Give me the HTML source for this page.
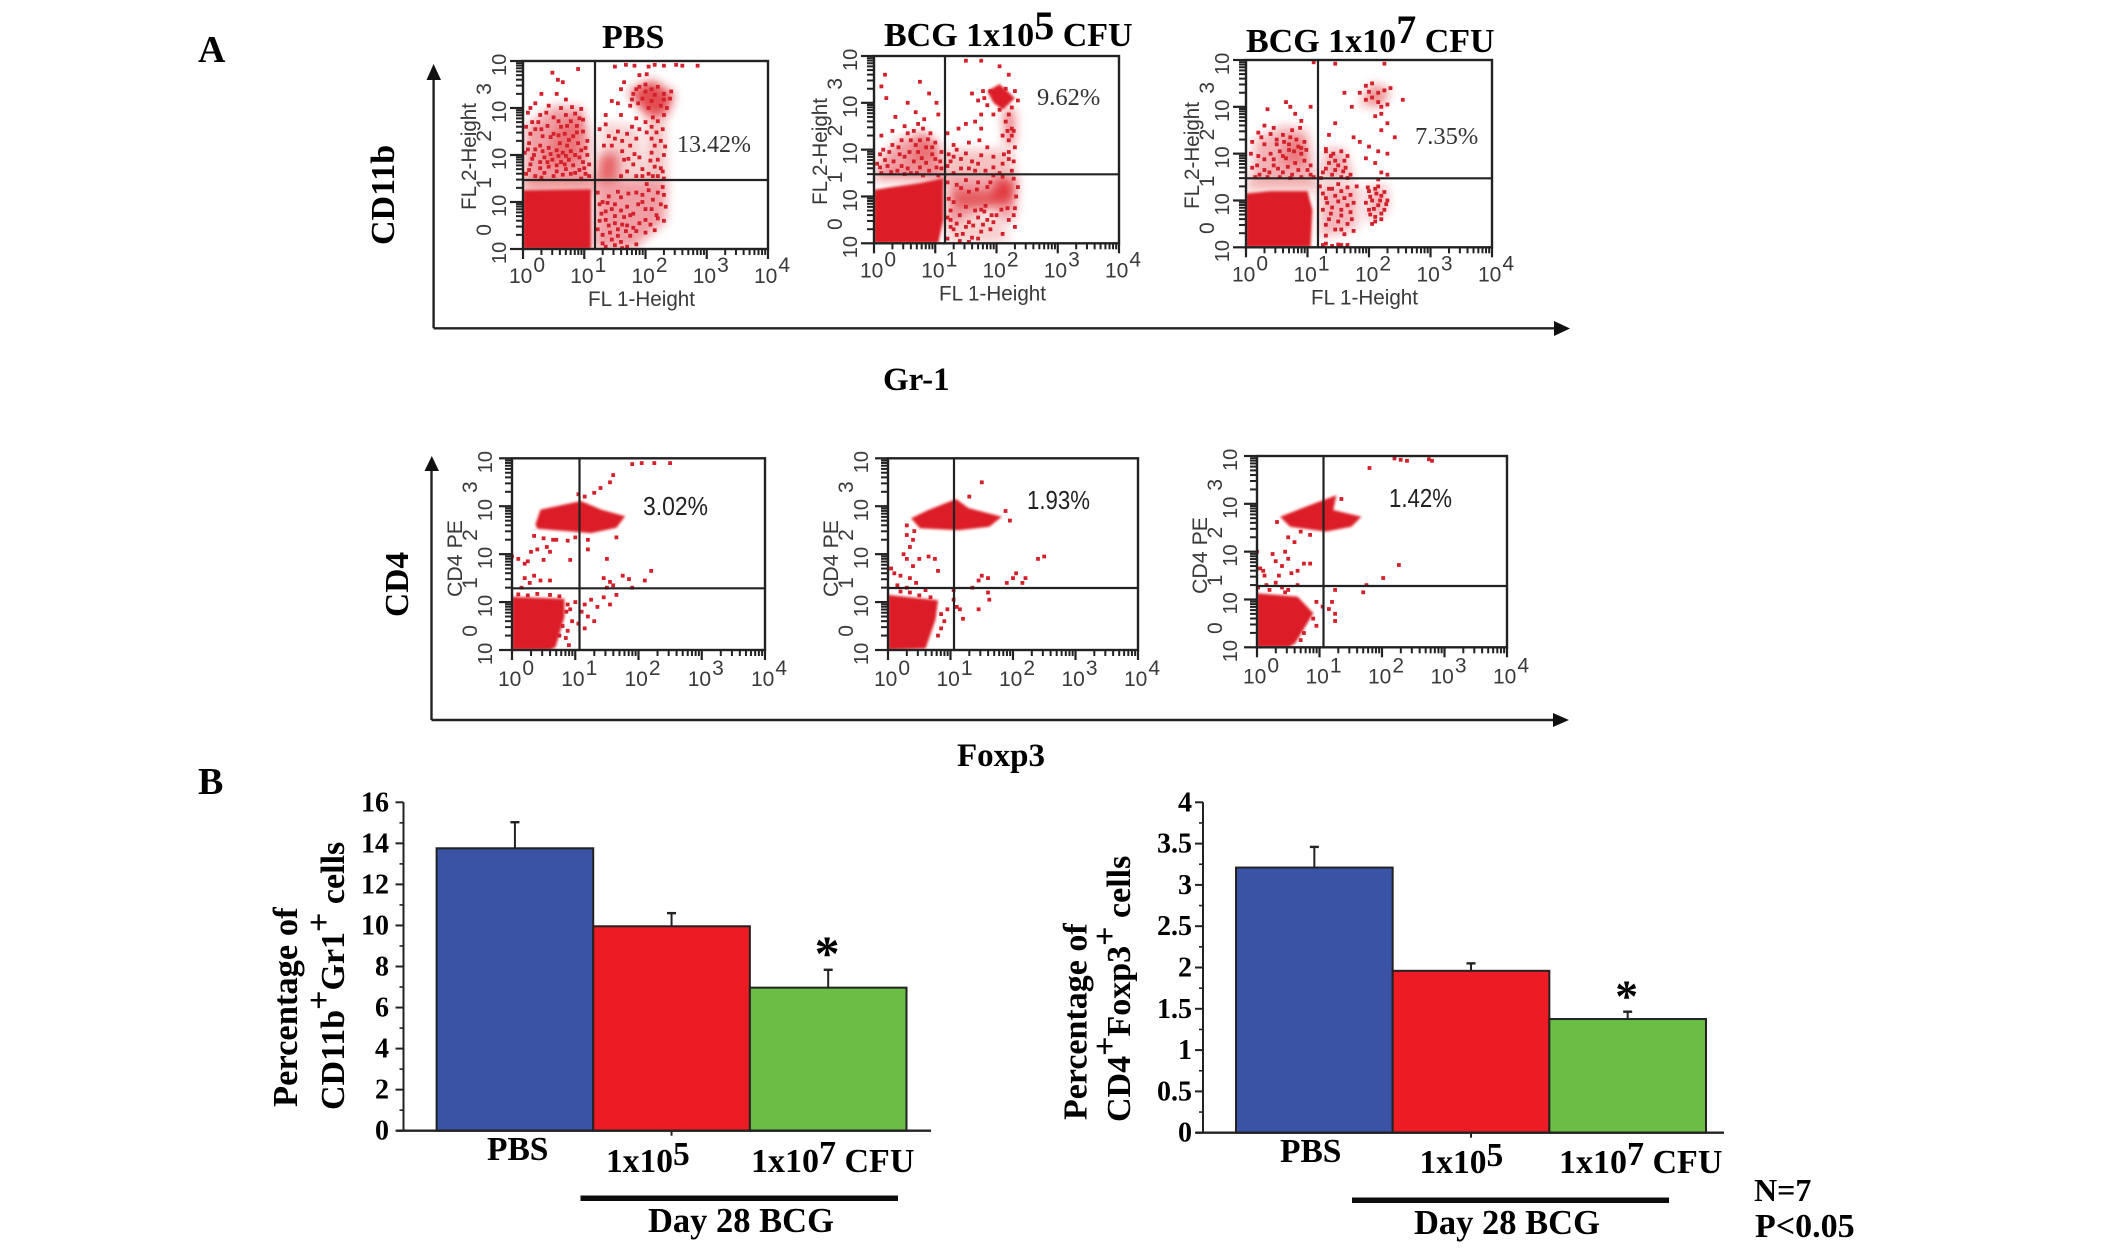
<!DOCTYPE html>
<html lang="en">
<head>
<meta charset="utf-8">
<title>Flow cytometry and bar charts of BCG treatment</title>
<style>
html,body{margin:0;padding:0;background:#fff;}
svg{display:block;}
.b{font-family:"Liberation Serif",serif;font-weight:bold;fill:#000;}
.p{font-family:"Liberation Serif",serif;fill:#333;font-size:24px;}
.s{font-family:"Liberation Sans",sans-serif;fill:#3a3a3a;}
</style>
</head>
<body>
<svg id="fig" xmlns="http://www.w3.org/2000/svg" width="2126" height="1256" viewBox="0 0 2126 1256">
<defs id="defs">
<filter id="softCloud" x="-25%" y="-25%" width="150%" height="150%"><feGaussianBlur stdDeviation="5"/></filter>
<filter id="softEdge" x="-10%" y="-10%" width="120%" height="120%"><feGaussianBlur stdDeviation="1.3"/></filter>
</defs>
<rect x="0" y="0" width="2126" height="1256" fill="#fff"/>

<text class="b" x="198" y="62" font-size="38">A</text>
<text class="b" x="198" y="794" font-size="38">B</text>

<text class="b" x="602" y="48" font-size="34">PBS</text>
<text class="b" x="884" y="46" font-size="34">BCG 1x10<tspan dy="-7" font-size="40">5</tspan><tspan dy="7"> CFU</tspan></text>
<text class="b" x="1246" y="52" font-size="34">BCG 1x10<tspan dy="-9" font-size="40">7</tspan><tspan dy="9"> CFU</tspan></text>

<text class="b" font-size="34" transform="translate(394,245) rotate(-90)">CD11b</text>
<text class="b" x="883" y="390" font-size="33">Gr-1</text>
<text class="b" font-size="33.5" transform="translate(408,617) rotate(-90)">CD4</text>
<text class="b" x="957" y="766" font-size="33">Foxp3</text>

<g stroke="#222" stroke-width="2.4" fill="#111">
<line x1="433.6" y1="72" x2="433.6" y2="328.3"/>
<line x1="433.6" y1="328.3" x2="1558" y2="328.3"/>
<polygon stroke="none" points="433.6,64 426.5,80 441,80"/>
<polygon stroke="none" points="1570,328.5 1554,321 1554,336"/>
</g>
<g stroke="#222" stroke-width="2.4" fill="#111">
<line x1="431.5" y1="464" x2="431.5" y2="720"/>
<line x1="431.5" y1="720" x2="1556" y2="720"/>
<polygon stroke="none" points="431.8,456 424.5,471 439,471"/>
<polygon stroke="none" points="1569,720 1553,713 1553,727"/>
</g>

<g id="plots"></g>
<g id="bars"></g>

<text class="p" x="677" y="152">13.42%</text>
<text class="p" x="1037" y="105" font-size="24.5" style="font-size:24.5px">9.62%</text>
<text class="p" x="1415" y="144" style="font-size:24.5px">7.35%</text>
<text class="s" x="643" y="515" font-size="26" textLength="65" lengthAdjust="spacingAndGlyphs" style="fill:#222">3.02%</text>
<text class="s" x="1027" y="509" font-size="26" textLength="63" lengthAdjust="spacingAndGlyphs" style="fill:#222">1.93%</text>
<text class="s" x="1389" y="507" font-size="26" textLength="63" lengthAdjust="spacingAndGlyphs" style="fill:#222">1.42%</text>

<text class="b" font-size="34.5" transform="translate(297,1107) rotate(-90)">Percentage of</text>
<text class="b" font-size="34" transform="translate(344,1110) rotate(-90)">CD11b<tspan dy="-14">+</tspan><tspan dy="14">Gr1</tspan><tspan dy="-14">+</tspan><tspan dy="14"> cells</tspan></text>
<text class="b" font-size="34" transform="translate(1086.5,1120) rotate(-90)">Percentage of</text>
<text class="b" font-size="34" transform="translate(1130,1122) rotate(-90)">CD4<tspan dy="-14">+</tspan><tspan dy="14">Foxp3</tspan><tspan dy="-14">+</tspan><tspan dy="14"> cells</tspan></text>

<text class="b" x="487" y="1160" font-size="33.5">PBS</text>
<text class="b" x="606" y="1172" font-size="33.5">1x10<tspan dy="-7">5</tspan></text>
<text class="b" x="751" y="1172" font-size="34">1x10<tspan dy="-8">7</tspan><tspan dy="8"> CFU</tspan></text>
<rect x="580.5" y="1195.5" width="317.5" height="5.5" fill="#0c0c0c"/>
<text class="b" x="648" y="1232" font-size="34.5">Day 28 BCG</text>

<text class="b" x="1280" y="1162" font-size="33.5">PBS</text>
<text class="b" x="1419.5" y="1173" font-size="33.5">1x10<tspan dy="-7">5</tspan></text>
<text class="b" x="1559" y="1173" font-size="34">1x10<tspan dy="-8">7</tspan><tspan dy="8"> CFU</tspan></text>
<rect x="1352" y="1197.5" width="317" height="5.5" fill="#0c0c0c"/>
<text class="b" x="1414" y="1234" font-size="34.5">Day 28 BCG</text>

<text class="b" x="1754" y="1201" font-size="32">N=7</text>
<text class="b" x="1755" y="1237" font-size="34">P&lt;0.05</text>
</svg>

<script>
// ---- Bar chart data ----
const leftBarValues = [13.76, 9.96, 6.97];
const leftErrorTops = [15.03, 10.6, 7.84];
const leftTickValues = [0, 2, 4, 6, 8, 10, 12, 14, 16];
const leftTickLabels = ['0', '2', '4', '6', '8', '10', '12', '14', '16'];
const rightBarValues = [3.21, 1.96, 1.376];
const rightErrorTops = [3.46, 2.05, 1.465];
const rightTickValues = [0, 0.5, 1, 1.5, 2, 2.5, 3, 3.5, 4];
const rightTickLabels = ['0', '0.5', '1', '1.5', '2', '2.5', '3', '3.5', '4'];
const barCategories = ['pbs', '1e5', '1e7'];
const barColors = ['#3a53a4', '#ed1c24', '#6abd45'];

// ---- Flow plot data, all in decades (0..4 = 10^0..10^4) ----
const decadeTicks = [0, 1, 2, 3, 4];
const minorMultipliers = [2, 3, 4, 5, 6, 7, 8, 9];

const pbsCd11bDense = [
  [0,0, 1.11,0, 1.11,1.27, 0,1.25]
];
const pbsCd11bCloud = [
  [.02,1.5, 1.1,1.5, 1.1,2.4, .95,3.0, .5,3.05, .05,2.6, .42],
  [.35,1.8, .9,1.8, 1,2.9, .55,2.6, .35],
  [1.15,0, 1.8,0, 2.33,.6, 2.35,1.45, 1.2,1.45, .42],
  [2.0,1.45, 2.35,1.45, 2.3,3, 2.05,3, .28],
  [1.72,3.35, 2.1,3.6, 2.47,3.3, 2.35,2.85, 2.0,2.85, .8],
  [1.2,1.45, 1.55,1.45, 1.55,2.05, 1.25,2.0, .6],
  [0,1.25, 1.18,1.25, 1.18,1.5, 0,1.5, .5],
  [1.2,1.45, 2.0,1.45, 1.9,2.6, 1.3,2.7, .22]
];
const pbsCd11bDots = [.48,3.75,.57,3.6,.65,3.55,.9,3.83,.3,3.3,.12,3.0,.2,3.1,.55,3.3,.7,3.18,.42,3.05,.62,3.0,.8,3.02,.95,2.98,.28,2.85,.5,2.8,.7,2.85,.85,2.88,.98,2.75,.78,2.72,.88,2.62,.62,2.6,.4,2.62,.2,2.55,.05,2.6,.12,2.45,.32,2.4,.5,2.45,.68,2.45,.82,2.4,.98,2.5,1.05,2.3,.9,2.25,.72,2.2,.6,2.25,.55,2.1,.65,2.05,.78,2.08,.42,2.15,.28,2.2,.1,2.25,.03,2.05,.18,2.0,.35,1.95,.48,1.9,.62,1.85,.75,1.9,.92,1.95,1.05,2.0,.12,1.8,.28,1.72,.42,1.75,.55,1.65,.7,1.7,.85,1.62,1.0,1.72,.05,1.6,.2,1.55,.95,1.5,1.08,1.55,1.5,3.88,1.68,3.92,1.82,3.9,2.05,3.88,2.15,3.92,2.3,3.9,2.5,3.92,2.6,3.9,2.85,3.9,1.6,3.4,1.65,3.55,1.9,3.7,2.02,3.72,1.55,3.1,1.75,3.05,1.45,3.15,1.35,2.85,1.6,2.85,1.85,2.78,2.0,2.7,2.1,2.6,2.2,2.72,2.3,2.85,1.8,3.3,1.9,3.45,2.0,3.5,2.1,3.4,2.2,3.45,2.3,3.3,2.4,3.2,2.1,3.15,1.95,3.2,2.25,3.05,2.35,3.0,2.05,3.0,1.25,2.55,1.4,2.4,1.55,2.5,1.7,2.45,1.62,2.3,1.75,2.2,1.45,2.2,1.85,2.35,2.1,2.35,2.15,2.2,2.25,2.3,2.1,2.05,2.2,1.9,2.3,2.0,2.15,1.75,2.28,1.65,2.05,1.6,1.9,1.95,1.8,1.8,1.7,1.65,1.65,1.9,1.6,1.55,1.85,1.55,1.95,1.7,2.3,1.5,2.2,1.55,1.22,1.2,1.3,1.0,1.4,1.12,1.5,.95,1.6,1.1,1.7,.9,1.35,.8,1.5,.7,1.65,.68,1.25,.6,1.4,.5,1.55,.42,1.7,.5,1.8,.75,1.9,.55,2.0,.35,2.15,.4,1.3,.3,1.45,.2,1.6,.15,1.75,.28,1.35,.05,1.5,.08,1.7,.05,1.85,.1,2.0,.62,2.2,.65,2.3,.6,2.33,.9,1.95,1.0,2.05,1.25,2.2,1.2,2.3,1.15,1.85,1.2,2.1,.85,
.08,2.9,.25,2.7,.38,2.9,.58,2.72,.72,2.62,.92,2.78,.15,2.7,.3,2.55,.45,2.38,.58,2.42,.75,2.32,.88,2.48,1.02,2.15,.95,2.1,.85,2.0,.7,1.98,.58,1.98,.45,2.02,.32,2.08,.2,2.12,.08,2.12,.15,1.92,.28,1.85,.4,1.85,.55,1.78,.68,1.8,.82,1.78,.98,1.85,1.08,1.8,.1,1.68,.35,1.62,.5,1.55,.65,1.58,.78,1.6,.92,1.68,.3,1.52,1.02,1.6,1.85,3.4,1.78,3.18,2.15,3.28,2.3,3.18,2.42,3.35,1.88,3.1,2.0,3.35,1.35,2.65,1.5,2.35,1.32,2.2,1.78,2.6,1.9,2.55,2.02,2.48,2.18,2.48,2.28,2.55,2.12,2.8,2.32,2.18,2.08,1.88,2.25,1.72,1.95,1.55,2.12,1.55,1.72,1.92,1.82,2.02,1.62,2.08,1.25,.95,1.38,.98,1.55,1.22,1.72,1.18,1.28,.75,1.45,.85,1.6,.82,1.75,.72,1.22,.42,1.35,.62,1.5,.55,1.62,.52,1.85,.38,2.08,.52,2.12,1.05,2.25,.95,2.0,.85,2.18,.72,2.28,1.32,2.02,1.38,1.88,.95,1.95,1.15,1.42,.35,1.55,.28,1.68,.38,1.3,.12,1.62,.02,1.8,.45];

const bcg5Cd11bDense = [
  [0,1.14, .34,1.21, .77,1.29, 1.13,1.39, 1.13,.5, 1.05,0, 0,0],
  [1.85,3.25, 2.05,3.4, 2.3,3.1, 2.1,2.85, 1.95,3.0]
];
const bcg5Cd11bCloud = [
  [.05,1.45, 1.15,1.4, 1.1,2.05, .8,2.4, .4,2.2, .1,1.8, .42],
  [.55,1.7, 1.0,1.7, 1.0,2.2, .75,2.35, .35],
  [1.18,.4, 1.95,.75, 2.05,.5, 2.3,.5, 2.35,1.45, 1.18,1.45, .4],
  [1.3,.75, 1.95,.8, 1.95,1.1, 1.3,1.15, .6],
  [1.9,.85, 2.25,.85, 2.3,1.3, 2.0,1.4, .8],
  [1.18,1.45, 2.3,1.45, 2.25,2.0, 1.2,2.0, .28],
  [2.1,2.85, 2.3,2.85, 2.3,2.1, 2.15,2.1, .55],
  [1.18,0, 2.2,0, 2.1,.5, 1.2,.6, .22],
  [0,1.35, 1.18,1.35, 1.18,1.5, 0,1.5, .4]
];
const bcg5Cd11bDots = [1.5,3.9,1.75,3.9,.18,3.6,.12,3.35,.75,3.45,.2,3.1,.9,3.2,.55,3.0,1.02,3.0,.68,2.8,.35,2.7,.82,2.65,1.05,2.75,.12,2.3,.3,2.4,.5,2.5,.72,2.55,.92,2.35,.6,2.2,.75,2.2,.85,2.05,.68,2.1,.4,2.05,.25,1.95,.1,1.9,.5,1.85,.65,1.75,.78,1.82,.95,1.9,1.08,1.75,1.1,1.95,.22,1.65,.38,1.55,.55,1.6,.7,1.5,.9,1.55,1.02,1.62,.12,1.5,.05,1.7,1.2,2.35,1.3,2.1,1.38,2.45,1.5,2.55,1.65,2.6,1.75,2.45,1.55,2.15,1.72,2.2,1.85,2.05,1.95,1.85,1.3,1.85,1.42,1.8,1.55,1.6,1.7,1.7,1.82,1.55,1.95,1.45,2.1,1.7,2.2,1.8,2.25,1.55,1.2,1.65,1.3,1.5,2.05,3.78,2.2,3.6,2.15,3.3,1.6,3.2,1.7,3.05,1.78,3.25,1.85,2.95,1.75,2.75,2.05,2.85,2.2,2.75,2.15,2.6,2.25,2.45,2.1,2.3,2.2,2.2,2.3,2.05,2.2,1.95,2.28,2.4,1.2,1.3,1.35,1.25,1.5,1.35,1.7,1.3,1.85,1.2,1.25,.5,1.4,.6,1.55,.45,1.7,.55,1.85,.5,2.0,.6,2.2,.5,2.3,.35,1.3,.3,1.45,.2,1.6,.12,1.75,.25,1.9,.3,2.1,.2,1.2,.1,1.4,.05,1.55,.03,1.25,.7,1.65,.7,1.8,.68,2.3,.75,2.35,1.2,
.15,2.0,.3,2.1,.45,2.2,.55,2.35,.65,2.4,.8,2.45,.88,2.22,1.0,2.15,.95,2.05,.72,1.95,.58,1.95,.42,1.9,.32,1.75,.18,1.78,.1,1.62,.28,1.52,.45,1.65,.6,1.5,.75,1.62,.85,1.72,1.0,1.8,1.1,1.6,1.05,1.45,.8,1.45,.5,1.48,1.22,1.9,1.35,2.0,1.25,1.75,1.42,1.6,1.6,1.75,1.5,1.92,1.65,1.55,1.75,1.88,1.95,1.62,2.05,1.5,2.12,1.9,2.28,1.75,1.8,3.1,1.9,3.25,2.3,3.25,2.35,3.05,2.25,2.9,1.95,2.75,2.25,2.3,2.18,2.4,1.22,.95,1.3,.88,1.42,1.18,1.5,.78,1.55,1.1,1.68,1.15,1.75,.72,1.82,.8,1.9,1.3,1.92,.6,2.08,.72,2.18,.75,2.28,.6,1.25,.35,1.35,.42,1.5,.35,1.62,.38,1.78,.4,1.95,.45,1.35,.18,1.7,.1,2.32,1.0,2.28,1.38,2.1,1.42,1.2,.55];

const bcg7Cd11bDense = [
  [0,1.15, .4,1.2, 1.0,1.2, 1.08,.8, 1.05,0, 0,0]
];
const bcg7Cd11bCloud = [
  [.1,1.45, 1.12,1.45, 1.0,2.5, .6,2.6, .15,2.3, .34],
  [.55,1.75, 1.0,1.75, .95,2.3, .7,2.35, .38],
  [1.2,1.45, 1.75,1.45, 1.6,2.1, 1.3,2.1, .35],
  [1.2,.2, 1.8,.4, 1.85,1.3, 1.2,1.35, .32],
  [1.95,.55, 2.3,.75, 2.3,1.3, 2.0,1.3, .32],
  [1.85,3.05, 2.05,3.5, 2.35,3.35, 2.2,3.0, .5],
  [0,1.2, 1.15,1.2, 1.15,1.48, 0,1.48, .3]
];
const bcg7Cd11bDots = [1.1,3.95,1.45,3.92,2.25,3.92,1.6,3.3,1.85,3.3,1.95,3.45,2.05,3.5,2.15,3.3,2.25,3.35,2.35,3.4,2.05,3.2,2.15,3.1,1.95,3.15,2.2,3.0,2.3,3.05,2.0,3.32,1.72,3.0,2.55,3.15,2.1,2.8,2.2,2.85,2.3,2.65,2.2,2.5,2.42,2.35,1.45,2.65,1.35,2.4,1.75,2.35,1.85,2.25,2.0,2.15,2.15,2.05,2.3,2.0,1.95,1.9,2.1,1.8,2.2,1.6,2.3,1.55,2.15,1.45,.65,3.1,.72,3.0,1.05,3.0,.35,2.95,.8,2.85,.9,2.7,.88,2.55,.3,2.6,.45,2.55,.6,2.4,.75,2.5,.2,2.45,.1,2.25,.3,2.2,.5,2.3,.7,2.2,.85,2.15,.95,2.25,.78,2.05,.9,2.0,.4,2.0,.55,2.05,.65,1.9,.8,1.8,.95,1.85,1.05,1.75,.2,1.95,.1,1.7,.3,1.65,.45,1.75,.6,1.6,.75,1.55,.9,1.5,1.05,1.55,.15,1.5,.35,1.5,1.3,2.05,1.42,2.0,1.55,2.05,1.65,1.95,1.35,1.8,1.5,1.75,1.62,1.7,1.25,1.6,1.4,1.55,1.55,1.5,1.7,1.55,1.2,1.3,1.35,1.25,1.5,1.35,1.65,1.28,1.8,1.3,1.3,1.05,1.45,1.1,1.6,1.05,1.75,.95,1.25,.8,1.4,.85,1.55,.8,1.7,.75,1.35,.6,1.5,.55,1.65,.5,1.45,.38,1.6,.28,1.75,.35,1.3,.25,1.25,.05,1.4,.03,1.5,.06,1.65,.05,2.0,1.2,2.1,1.25,2.2,1.1,2.3,1.0,2.05,1.0,2.15,.9,2.25,.8,2.0,.8,2.1,.65,2.2,.6,2.05,.5,2.15,1.3,1.95,.95,
.25,2.35,.4,2.42,.5,2.2,.62,2.25,.72,2.35,.82,2.3,.9,2.12,.98,2.08,.7,2.08,.6,1.95,.45,1.88,.3,1.88,.18,1.75,.08,2.0,.38,1.6,.52,1.68,.68,1.72,.85,1.65,1.0,1.65,1.1,1.5,.22,1.55,.55,1.5,.72,1.48,1.3,2.1,1.38,1.95,1.45,1.85,1.6,1.85,1.58,1.62,1.3,1.68,1.45,1.65,1.22,1.48,1.65,1.48,1.25,1.15,1.4,1.25,1.55,1.2,1.7,1.12,1.32,.95,1.5,.98,1.65,.9,1.38,.72,1.55,.68,1.72,.6,1.3,.48,1.55,.38,1.3,.08,1.55,.05,2.02,1.08,2.12,1.15,2.25,1.18,2.18,1.0,2.28,.92,2.08,.82,2.2,.72,1.98,1.28,2.1,.55,2.02,.7];

const pbsCd4Dense = [
  [.37,2.62, .45,2.93, 1.09,3.11, 1.41,2.93, 1.79,2.79, 1.65,2.55, 1.25,2.44, .4,2.53],
  [0,1.11, .83,1.07, .83,.69, .69,.06, .6,0, 0,0]
];
const pbsCd4Cloud = [];
const pbsCd4Dots = [1.9,3.88,2.05,3.9,2.25,3.9,2.5,3.9,1.6,3.65,1.55,3.5,1.4,3.38,1.3,3.28,1.15,3.2,1.05,3.25,.35,2.38,.5,2.33,.65,2.3,.7,2.3,.88,2.28,1.0,2.35,1.2,2.3,1.65,2.35,1.2,2.1,1.5,1.9,.4,2.1,.55,2.15,.6,2.05,.3,2.05,.25,1.85,.1,1.9,.0,1.95,.2,1.8,.5,1.88,.92,1.88,.2,1.5,.28,1.4,.15,1.3,.35,1.55,.45,1.45,.6,1.45,1.75,1.55,1.85,1.48,1.45,1.5,1.55,1.42,1.6,1.35,2.2,1.65,2.1,1.45,1.9,1.3,1.5,1.3,1.0,1.0,1.15,.95,1.25,1.05,1.35,.9,1.45,1.1,1.55,.95,1.65,1.15,1.1,.8,1.2,.7,1.3,.6,1.05,.55,1.15,.45,.95,.6,.88,.4,.85,.25,.92,.85,.9,.1,.1,1.16,.25,1.14,.4,1.17,.6,1.15,.75,1.12,.88,.95,.86,.8,.8,.5,.75,.3];

const bcg5Cd4Dense = [
  [.37,2.75, .64,2.92, 1.09,3.15, 1.29,2.96, 1.82,2.78, 1.62,2.57, 1.13,2.5, .51,2.54],
  [0,1.15, .8,1.04, .76,.63, .6,.03, 0,0]
];
const bcg5Cd4Cloud = [];
const bcg5Cd4Dots = [1.5,3.5,1.3,3.2,.3,2.4,.4,2.3,.35,2.15,.3,1.9,.4,1.75,.1,1.6,.2,1.55,.35,1.5,.5,1.9,.65,1.95,.75,1.9,.8,1.65,.05,1.7,.15,1.35,.3,1.3,.45,1.4,.6,1.25,.25,2.0,1.5,1.55,1.6,1.5,1.45,1.45,2.0,1.5,2.05,1.6,2.2,1.5,2.4,1.9,2.5,1.95,2.15,1.4,1.9,1.4,1.35,1.3,1.6,1.2,1.62,1.05,1.05,1.25,1.05,1.05,1.1,.9,.95,.85,.85,.75,.9,.6,1.15,.85,1.45,.85,1.2,.65,.85,.45,.8,.3,.2,1.22,.35,1.2,.5,1.14,.68,1.1,1.88,2.9,1.95,2.7,.3,2.6,.42,2.48];

const bcg7Cd4Dense = [
  [.37,2.73, .86,2.98, 1.27,3.18, 1.22,2.87, 1.67,2.73, 1.51,2.52, 1.1,2.42, .53,2.52],
  [0,1.13, .65,1.06, .9,.71, .61,.08, .5,0, 0,0]
];
const bcg7Cd4Cloud = [];
const bcg7Cd4Dots = [0,2.0,.05,1.65,.1,1.6,.25,1.95,.3,1.8,.4,1.7,.5,1.85,.35,1.5,.45,2.0,.55,1.55,.65,1.6,.75,1.75,.85,1.75,.15,1.3,.3,1.35,.4,1.25,.5,1.2,.65,1.3,.12,1.5,.02,1.25,.6,2.2,.5,2.3,1.8,3.75,2.2,3.95,2.4,3.9,2.75,3.93,2.8,3.9,2.3,3.92,2.27,1.72,2.02,1.45,1.75,1.3,1.7,1.15,1.25,1.2,.95,.95,1.05,.85,1.15,.8,1.25,.7,1.25,.55,1.2,.95,.9,.6,.95,.45,.75,.3,.7,.15,1.35,3.1,.32,2.62,.7,2.42,.85,2.35,.2,1.2,.45,1.15];

// ---- Rendering ----
const NS = 'http://www.w3.org/2000/svg';
function mk(tag, attrs, parent) {
  const n = document.createElementNS(NS, tag);
  for (const k in attrs) n.setAttribute(k, attrs[k]);
  parent.appendChild(n);
  return n;
}

function drawFlow(name, box, dense, cloud, dots, yTitle, yTitleOffset, digitOffset, xTitle, tickFont) {
  const root = document.getElementById('plots');
  const g = mk('g', {}, root);
  
  
  const px = v => box.x0 + v / 4 * (box.x1 - box.x0);
  const py = v => box.y1 - v / 4 * (box.y1 - box.y0);

  const clip = mk('clipPath', {id: 'clip-' + name}, document.getElementById('defs'));
  mk('rect', {x: box.x0, y: box.y0, width: box.x1 - box.x0, height: box.y1 - box.y0}, clip);
  const clipped = mk('g', {'clip-path': 'url(#clip-' + name + ')'}, g);
  
  

  if (cloud.length) {
    const cloudLayer = mk('g', {filter: 'url(#softCloud)'}, clipped);
    
    
    cloud.forEach(r => {
      const op = r[r.length - 1];
      const pts = [];
      for (let i = 0; i + 1 < r.length - 1; i += 2) pts.push(px(r[i]).toFixed(1) + ',' + py(r[i + 1]).toFixed(1));
      const el = mk('polygon', {points: pts.join(' '), fill: '#dc1f26', opacity: op}, cloudLayer);
      
      
    });
  }
  const denseLayer = mk('g', {filter: 'url(#softEdge)'}, clipped);
  
  
  dense.forEach(r => {
    const pts = [];
    for (let i = 0; i + 1 < r.length; i += 2) pts.push(px(r[i]).toFixed(1) + ',' + py(r[i + 1]).toFixed(1));
    const el = mk('polygon', {points: pts.join(' '), fill: '#dc1f26'}, denseLayer);
    
    
  });
  for (let i = 0; i + 1 < dots.length; i += 2) {
    const el = mk('rect', {x: (px(dots[i]) - 1.9).toFixed(1), y: (py(dots[i + 1]) - 1.9).toFixed(1), width: 3.8, height: 3.8, fill: '#d3202a'}, clipped);
    
    
  }

  const frame = mk('rect', {x: box.x0, y: box.y0, width: box.x1 - box.x0, height: box.y1 - box.y0, fill: 'none', stroke: '#222', 'stroke-width': 2.4}, g);
  
  
  const gv = mk('line', {x1: box.gx, y1: box.y0, x2: box.gx, y2: box.y1, stroke: '#222', 'stroke-width': 2.2}, g);
  
  
  const gh = mk('line', {x1: box.x0, y1: box.gy, x2: box.x1, y2: box.gy, stroke: '#222', 'stroke-width': 2.2}, g);
  
  

  decadeTicks.forEach(d => {
    const tx = mk('line', {x1: px(d), y1: box.y1, x2: px(d), y2: box.y1 + 10, stroke: '#222', 'stroke-width': 2.2}, g);
    
    
    const ty = mk('line', {x1: box.x0 - 13, y1: py(d), x2: box.x0, y2: py(d), stroke: '#222', 'stroke-width': 2.2}, g);
    
    
    if (d < 4) minorMultipliers.forEach(m => {
      const off = d + Math.log10(m);
      const mx = mk('line', {x1: px(off), y1: box.y1, x2: px(off), y2: box.y1 + 6, stroke: '#222', 'stroke-width': 2}, g);
      
      
      const my = mk('line', {x1: box.x0 - 7, y1: py(off), x2: box.x0, y2: py(off), stroke: '#222', 'stroke-width': 2}, g);
      
      
    });

    const xl = mk('text', {x: px(d) - 14, y: box.y1 + tickFont.xBase, class: 's', 'font-size': 21}, g);
    
    
    xl.appendChild(document.createTextNode('10'));
    const xs = mk('tspan', {dy: -11, dx: 1}, xl);
    xs.textContent = String(d);

    const yl = mk('text', {class: 's', 'font-size': 20, transform: 'translate(' + (box.x0 + digitOffset) + ',' + (py(d) + 15) + ') rotate(-90)'}, g);
    
    
    yl.appendChild(document.createTextNode('10'));
    if (d < 4) {
      const ys = mk('tspan', {dy: -15, dx: 6, 'font-size': 21}, yl);
      ys.textContent = String(d);
    }
  });

  const yt = mk('text', {class: 's', 'font-size': 21, textLength: yTitle.len, lengthAdjust: 'spacingAndGlyphs', transform: 'translate(' + (box.x0 + yTitleOffset) + ',' + yTitle.y + ') rotate(-90)'}, g);
  
  
  yt.textContent = yTitle.text;
  if (xTitle) {
    const xt = mk('text', {class: 's', 'font-size': 21, x: box.x0 + 65, y: box.y1 + 57, textLength: 107, lengthAdjust: 'spacingAndGlyphs'}, g);
    
    
    xt.textContent = xTitle;
  }
}

const fl2 = y => ({text: 'FL 2-Height', len: 107, y: y});
const cd4pe = y => ({text: 'CD4 PE', len: 77, y: y});

drawFlow('flow-plot-pbs-cd11b', {x0: 523, x1: 768, y0: 61, y1: 249, gx: 595, gy: 180}, pbsCd11bDense, pbsCd11bCloud, pbsCd11bDots, fl2(210), -47, -17, 'FL 1-Height', {xBase: 34});
drawFlow('flow-plot-1e5-cd11b', {x0: 874, x1: 1119, y0: 56, y1: 243.3, gx: 945, gy: 174.3}, bcg5Cd11bDense, bcg5Cd11bCloud, bcg5Cd11bDots, fl2(205), -47, -17, 'FL 1-Height', {xBase: 34});
drawFlow('flow-plot-1e7-cd11b', {x0: 1246, x1: 1492, y0: 60, y1: 247.3, gx: 1318, gy: 178.3}, bcg7Cd11bDense, bcg7Cd11bCloud, bcg7Cd11bDots, fl2(209), -47, -17, 'FL 1-Height', {xBase: 34});
drawFlow('flow-plot-pbs-cd4', {x0: 512, x1: 765, y0: 458.3, y1: 650, gx: 579.5, gy: 588.3}, pbsCd4Dense, pbsCd4Cloud, pbsCd4Dots, cd4pe(597), -50, -20, null, {xBase: 36});
drawFlow('flow-plot-1e5-cd4', {x0: 888, x1: 1138, y0: 458.3, y1: 650, gx: 954, gy: 588}, bcg5Cd4Dense, bcg5Cd4Cloud, bcg5Cd4Dots, cd4pe(597), -50, -20, null, {xBase: 36});
drawFlow('flow-plot-1e7-cd4', {x0: 1257, x1: 1507, y0: 456, y1: 647.3, gx: 1323.5, gy: 586}, bcg7Cd4Dense, bcg7Cd4Cloud, bcg7Cd4Dots, cd4pe(594), -50, -20, null, {xBase: 36});

function drawBars(name, layout, values, errorTops, tickValues, tickLabels, starSize) {
  const root = document.getElementById('bars');
  const g = mk('g', {}, root);
  
  
  const maxV = tickValues[tickValues.length - 1];
  const sy = v => layout.y0 - v / maxV * (layout.y0 - layout.yTop);
  const band = (layout.barEnd - layout.barStart) / values.length;
  const sx = i => layout.barStart + i * band;

  values.forEach((v, i) => {
    const cx = sx(i) + band / 2;
    const stem = mk('line', {x1: cx, y1: sy(v), x2: cx, y2: sy(errorTops[i]), stroke: '#222', 'stroke-width': 2}, g);
    
    
    const cap = mk('line', {x1: cx - 4.5, y1: sy(errorTops[i]), x2: cx + 4.5, y2: sy(errorTops[i]), stroke: '#222', 'stroke-width': 2.4}, g);
    
    
    const bar = mk('rect', {x: sx(i), y: sy(v), width: band, height: layout.y0 - sy(v), fill: barColors[i], stroke: '#222', 'stroke-width': 2}, g);
    
    
  });

  const star = mk('text', {x: sx(2) + band / 2 - 1, y: sy(errorTops[2]), class: 'b', 'font-size': starSize, 'text-anchor': 'middle'}, g);
  
  
  star.textContent = '*';

  const ya = mk('line', {x1: layout.axisX, y1: sy(maxV), x2: layout.axisX, y2: layout.y0, stroke: '#222', 'stroke-width': 2}, g);
  
  
  const xa = mk('line', {x1: layout.axisX - 7, y1: layout.y0, x2: layout.xEnd, y2: layout.y0, stroke: '#222', 'stroke-width': 2.4}, g);
  
  
  const mid = mk('line', {x1: sx(1) + band / 2, y1: layout.y0, x2: sx(1) + band / 2, y2: layout.y0 + 5, stroke: '#222', 'stroke-width': 2}, g);
  
  

  tickValues.forEach((t, i) => {
    const tk = mk('line', {x1: layout.axisX - 8, y1: sy(t), x2: layout.axisX, y2: sy(t), stroke: '#222', 'stroke-width': 2}, g);
    
    
    if (i < tickValues.length - 1) {
      const midV = (t + tickValues[i + 1]) / 2;
      const mn = mk('line', {x1: layout.axisX - 4, y1: sy(midV), x2: layout.axisX, y2: sy(midV), stroke: '#222', 'stroke-width': 1.6}, g);
      
      
    }
    const lb = mk('text', {x: layout.labelX, y: sy(t) + 9, class: 'b', 'font-size': 28, 'text-anchor': 'end'}, g);
    
    
    lb.textContent = tickLabels[i];
  });
}

drawBars('bar-chart-cd11b-gr1', {y0: 1130.7, yTop: 802.3, barStart: 436.6, barEnd: 906.5, axisX: 403.5, xEnd: 931, labelX: 389}, leftBarValues, leftErrorTops, leftTickValues, leftTickLabels, 50);
drawBars('bar-chart-cd4-foxp3', {y0: 1132.7, yTop: 802.3, barStart: 1236, barEnd: 1706, axisX: 1203, xEnd: 1724, labelX: 1192}, rightBarValues, rightErrorTops, rightTickValues, rightTickLabels, 46);
</script>
</body>
</html>
